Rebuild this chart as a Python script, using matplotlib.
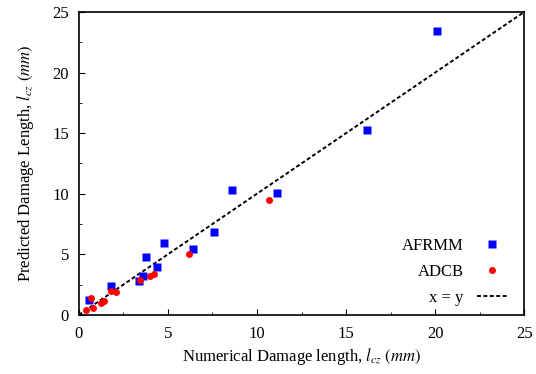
import numpy as np
import matplotlib
matplotlib.use("Agg")
import matplotlib.pyplot as plt
from matplotlib.ticker import MultipleLocator

plt.rcParams['font.family'] = ['Liberation Serif', 'DejaVu Serif']
plt.rcParams['mathtext.fontset'] = 'stix'

# Numerical vs predicted damage length (mm)
afrmm_x = [0.6, 1.8, 3.4, 3.6, 3.75, 4.4, 4.8, 6.4, 7.6, 8.6, 11.1, 16.2, 20.1]
afrmm_y = [1.2, 2.35, 2.8, 3.2, 4.8, 3.95, 5.95, 5.45, 6.85, 10.3, 10.05, 15.3, 23.4]

adcb_x = [0.4, 0.8, 0.7, 1.25, 1.4, 1.8, 2.1, 3.45, 4.0, 4.2, 6.2, 10.7]
adcb_y = [0.4, 0.6, 1.4, 1.0, 1.15, 2.0, 1.85, 2.85, 3.2, 3.35, 5.0, 9.45]

ref_line = [0, 25]

fig = plt.figure(figsize=(5.36, 3.74), dpi=100)
ax = fig.add_axes([0.147, 0.158, 0.831, 0.81])

ax.plot(afrmm_x, afrmm_y, 's', color='#0000ff', ms=5.5, mec='none', label='AFRMM', zorder=3)
ax.plot(adcb_x, adcb_y, 'o', color='#ff0000', ms=5, mec='none', label='ADCB', zorder=4)
ax.plot(ref_line, ref_line, color='black', lw=1.4, linestyle=(0, (2, 1.3)), label='x = y', zorder=2)

ax.set_xlim(0, 25)
ax.set_ylim(0, 25)
ax.xaxis.set_major_locator(MultipleLocator(5))
ax.yaxis.set_major_locator(MultipleLocator(5))
ax.xaxis.set_minor_locator(MultipleLocator(2.5))
ax.yaxis.set_minor_locator(MultipleLocator(2.5))
ax.tick_params(which='both', direction='in', labelsize=12)
ax.tick_params(which='major', length=4)
ax.tick_params(which='minor', length=2.5)
ax.tick_params(axis='x', pad=8)
ax.tick_params(axis='y', pad=7)
for s in ax.spines.values():
    s.set_linewidth(1.2)

ax.set_xlabel(r'Numerical Damage length, $l_{cz}$ $(mm)$', fontsize=12, labelpad=3)
ax.set_ylabel(r'Predicted Damage Length, $l_{cz}$ $(mm)$', fontsize=12, labelpad=12)

ax.legend(loc='lower right', frameon=False, markerfirst=False, fontsize=12,
          handlelength=1.8, labelspacing=0.6, bbox_to_anchor=(0.995, -0.02))

fig.savefig('out.png', dpi=100)
